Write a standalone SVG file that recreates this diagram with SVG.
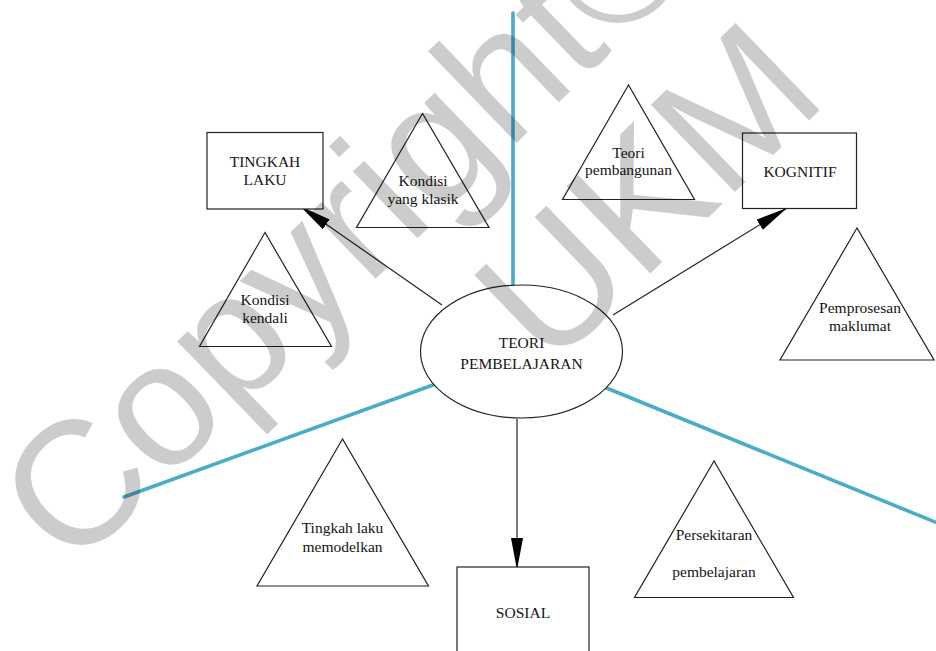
<svg xmlns="http://www.w3.org/2000/svg" width="936" height="651" viewBox="0 0 936 651">
<style>
.box{fill:#fff;stroke:#222;stroke-width:1.2}
.tri{fill:#fff;stroke:#222;stroke-width:1.2}
.lbl{font-family:"Liberation Serif","Times New Roman",serif;font-size:15.5px;fill:#141414;text-anchor:middle}
.arr{fill:none;stroke:#222;stroke-width:1.2}
.blue{fill:none;stroke:#4bacc6;stroke-width:3.6;stroke-linecap:round}
.wm{font-family:"Liberation Sans",Arial,sans-serif;font-size:176px;fill:#000;fill-opacity:0.2}
</style>
<defs>
<marker id="ah" markerUnits="userSpaceOnUse" markerWidth="34" markerHeight="14" refX="32" refY="6" orient="auto">
<path d="M0,0 L32,6 L0,12 Z" fill="#000"/>
</marker>
</defs>
<rect width="936" height="651" fill="#fff"/>
<g id="connectors">
<line class="blue" x1="513" y1="13" x2="513" y2="287"/>
<line class="blue" x1="433" y1="385" x2="124" y2="497"/>
<line class="blue" x1="604" y1="387" x2="940" y2="524"/>
<line class="arr" x1="442" y1="305" x2="300" y2="206" marker-end="url(#ah)"/>
<line class="arr" x1="613" y1="315" x2="787" y2="208" marker-end="url(#ah)"/>
<line class="arr" x1="517" y1="419" x2="517" y2="570" marker-end="url(#ah)"/>
</g>
<g id="teori-pembelajaran">
<ellipse class="box" cx="521.5" cy="351.5" rx="101" ry="66.5"/>
<text class="lbl" x="521.5" y="348">TEORI</text>
<text class="lbl" x="521.5" y="368.5">PEMBELAJARAN</text>
</g>
<g id="tingkah-laku">
<rect class="box" x="207" y="132.5" width="116" height="76.5"/>
<text class="lbl" x="265" y="166.5">TINGKAH</text>
<text class="lbl" x="265" y="185">LAKU</text>
</g>
<g id="kognitif">
<rect class="box" x="742.5" y="133" width="114" height="75.5"/>
<text class="lbl" x="800" y="176.5">KOGNITIF</text>
</g>
<g id="sosial">
<rect class="box" x="457" y="567" width="132" height="90"/>
<text class="lbl" x="523" y="617.5">SOSIAL</text>
</g>
<g id="kondisi-klasik">
<polygon class="tri" points="422.5,113.5 356.5,227.5 489,227.5"/>
<text class="lbl" x="423" y="186">Kondisi</text>
<text class="lbl" x="423" y="203.5">yang klasik</text>
</g>
<g id="kondisi-kendali">
<polygon class="tri" points="265,232.5 199.5,346.5 331.5,346.5"/>
<text class="lbl" x="265" y="305">Kondisi</text>
<text class="lbl" x="265" y="322.5">kendali</text>
</g>
<g id="teori-pembangunan">
<polygon class="tri" points="628.5,85 562.5,199.5 694.5,199.5"/>
<text class="lbl" x="628.5" y="157.5">Teori</text>
<text class="lbl" x="628.5" y="174.5">pembangunan</text>
</g>
<g id="pemprosesan-maklumat">
<polygon class="tri" points="857,228 780,360 934,360"/>
<text class="lbl" x="860" y="312.5">Pemprosesan</text>
<text class="lbl" x="860" y="330.5">maklumat</text>
</g>
<g id="tingkah-laku-memodelkan">
<polygon class="tri" points="342.5,439 257,586 428.5,586"/>
<text class="lbl" x="342.5" y="532.5">Tingkah laku</text>
<text class="lbl" x="342.5" y="551.5">memodelkan</text>
</g>
<g id="persekitaran-pembelajaran">
<polygon class="tri" points="714,461 634.5,597.5 793.5,597.5"/>
<text class="lbl" x="714" y="539.5">Persekitaran</text>
<text class="lbl" x="714" y="576.5">pembelajaran</text>
</g>
<g id="watermark" transform="translate(71.4,572.7) rotate(-44)">
<text class="wm" x="0" y="0">Copyright©</text>
<text class="wm" x="874" y="187" text-anchor="end">UKM</text>
</g>
</svg>
